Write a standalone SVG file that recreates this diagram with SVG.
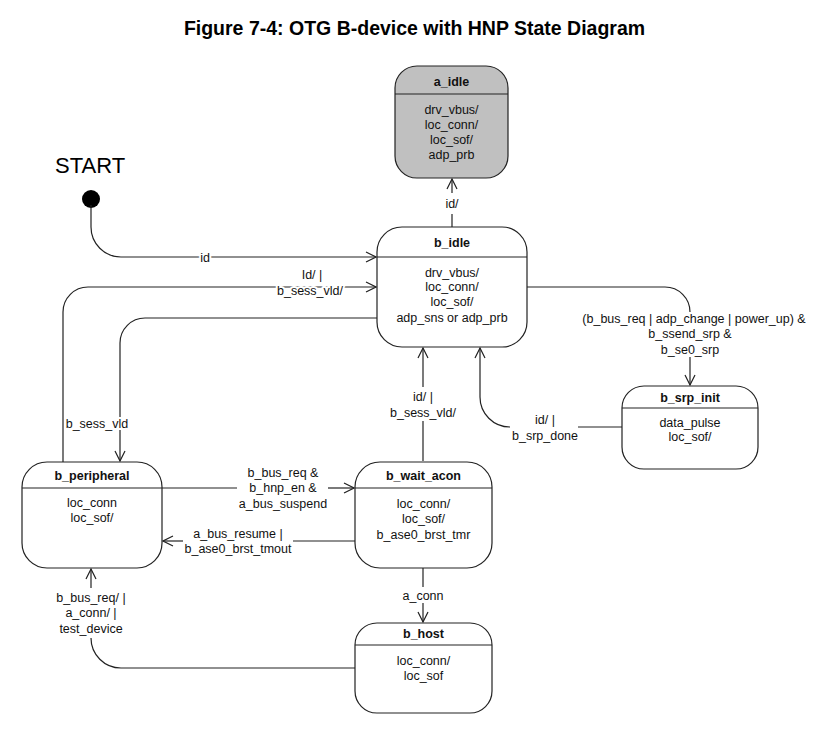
<svg xmlns="http://www.w3.org/2000/svg" width="837" height="732" viewBox="0 0 837 732">
<style>
.node{fill:#fff;stroke:#222;stroke-width:1.2}
.gray{fill:#c0c0c0}
.sep{stroke:#222;stroke-width:1.2}
.t{font-family:"Liberation Sans",Arial,sans-serif;font-size:12.5px;fill:#111;text-anchor:middle}
.b{font-weight:bold}
.c{fill:none;stroke:#222;stroke-width:1.2}
.halo{stroke:#fff;stroke-width:4;paint-order:stroke;stroke-linejoin:round}
</style>
<defs>
<marker id="ah" viewBox="0 0 12 12" refX="11" refY="6" markerWidth="12" markerHeight="12" markerUnits="userSpaceOnUse" orient="auto">
<path d="M1,1 L11,6 L1,11" fill="none" stroke="#222" stroke-width="1.2"/>
</marker>
</defs>
<rect width="837" height="732" fill="#fff"/>
<text x="414.5" y="35" style="font-family:'Liberation Sans',Arial,sans-serif;font-size:19.5px;font-weight:bold;fill:#000;text-anchor:middle">Figure 7-4: OTG B-device with HNP State Diagram</text>

<g id="start">
<text x="55" y="173" style="font-family:'Liberation Sans',Arial,sans-serif;font-size:22px;fill:#000">START</text>
<circle cx="91" cy="199" r="9" fill="#000"/>
</g>

<g id="connectors">
<path class="c" d="M91,205 V227 A30,30 0 0 0 121,257 H376" marker-end="url(#ah)"/>
<text class="t halo" x="205" y="261.5">id</text>

<path class="c" d="M63,462 V312 A25,25 0 0 1 88,287 H376" marker-end="url(#ah)"/>
<text class="t halo" x="312" y="279">Id/ |</text>
<text class="t halo" x="310" y="295">b_sess_vld/</text>

<path class="c" d="M377,318 H145 A25,25 0 0 0 120,343 V461" marker-end="url(#ah)"/>
<text class="t halo" x="97" y="428">b_sess_vld</text>

<path class="c" d="M452,227 V214"/>
<path class="c" d="M452,193 V179" marker-end="url(#ah)"/>
<text class="t" x="452" y="207.5">id/</text>

<path class="c" d="M527,287 H665 A25,25 0 0 1 690,312"/>
<path class="c" d="M690,357 V385" marker-end="url(#ah)"/>
<text class="t" x="694" y="322.5">(b_bus_req | adp_change | power_up) &amp;</text>
<text class="t" x="690" y="338">b_ssend_srp &amp;</text>
<text class="t" x="690" y="353.5">b_se0_srp</text>

<path class="c" d="M622,427 H578"/>
<path class="c" d="M510,427 A30,30 0 0 1 480,397 V348" marker-end="url(#ah)"/>
<text class="t" x="545" y="424">id/ |</text>
<text class="t" x="545" y="439.5">b_srp_done</text>

<path class="c" d="M423,461 V421"/>
<path class="c" d="M423,387 V348" marker-end="url(#ah)"/>
<text class="t" x="423" y="401">id/ |</text>
<text class="t" x="423" y="416.5">b_sess_vld/</text>

<path class="c" d="M162,488 H237"/>
<path class="c" d="M328,488 H354" marker-end="url(#ah)"/>
<text class="t" x="283" y="476.5">b_bus_req &amp;</text>
<text class="t" x="283" y="492">b_hnp_en &amp;</text>
<text class="t" x="283" y="507.5">a_bus_suspend</text>

<path class="c" d="M355,541 H293"/>
<path class="c" d="M183,541 H163" marker-end="url(#ah)"/>
<text class="t" x="238" y="537.5">a_bus_resume |</text>
<text class="t" x="238" y="553">b_ase0_brst_tmout</text>

<path class="c" d="M423,568 V587"/>
<path class="c" d="M423,603 V622" marker-end="url(#ah)"/>
<text class="t" x="423" y="599.5">a_conn</text>

<path class="c" d="M355,668 H121 A30,30 0 0 1 91,638"/>
<path class="c" d="M91,588 V569" marker-end="url(#ah)"/>
<text class="t" x="91" y="601.5">b_bus_req/ |</text>
<text class="t" x="91" y="617">a_conn/ |</text>
<text class="t" x="91" y="632.5">test_device</text>
</g>

<g id="a_idle">
<rect class="node gray" x="395" y="66" width="113" height="112" rx="22"/>
<line class="sep" x1="395" y1="94" x2="508" y2="94"/>
<text class="t b" x="451.5" y="85.5">a_idle</text>
<text class="t" x="451.5" y="113.5">drv_vbus/</text>
<text class="t" x="451.5" y="128.5">loc_conn/</text>
<text class="t" x="451.5" y="143.5">loc_sof/</text>
<text class="t" x="451.5" y="159">adp_prb</text>
</g>

<g id="b_idle">
<rect class="node" x="377" y="227" width="150" height="120" rx="25"/>
<line class="sep" x1="377" y1="257" x2="527" y2="257"/>
<text class="t b" x="452" y="246.5">b_idle</text>
<text class="t" x="452" y="276.5">drv_vbus/</text>
<text class="t" x="452" y="291">loc_conn/</text>
<text class="t" x="452" y="306">loc_sof/</text>
<text class="t" x="452" y="321.5">adp_sns or adp_prb</text>
</g>

<g id="b_srp_init">
<rect class="node" x="622" y="386" width="136" height="83" rx="22"/>
<line class="sep" x1="622" y1="408" x2="758" y2="408"/>
<text class="t b" x="690" y="401.5">b_srp_init</text>
<text class="t" x="690" y="426.5">data_pulse</text>
<text class="t" x="690" y="441">loc_sof/</text>
</g>

<g id="b_peripheral">
<rect class="node" x="22" y="462" width="140" height="106" rx="25"/>
<line class="sep" x1="22" y1="488" x2="162" y2="488"/>
<text class="t b" x="92" y="479.5">b_peripheral</text>
<text class="t" x="92" y="506.5">loc_conn</text>
<text class="t" x="92" y="522">loc_sof/</text>
</g>

<g id="b_wait_acon">
<rect class="node" x="355" y="462" width="137" height="106" rx="25"/>
<line class="sep" x1="355" y1="488" x2="492" y2="488"/>
<text class="t b" x="423.5" y="479.5">b_wait_acon</text>
<text class="t" x="423.5" y="507.5">loc_conn/</text>
<text class="t" x="423.5" y="523">loc_sof/</text>
<text class="t" x="423.5" y="538.5">b_ase0_brst_tmr</text>
</g>

<g id="b_host">
<rect class="node" x="355" y="623" width="137" height="90" rx="22"/>
<line class="sep" x1="355" y1="645" x2="492" y2="645"/>
<text class="t b" x="423.5" y="638">b_host</text>
<text class="t" x="423.5" y="664.5">loc_conn/</text>
<text class="t" x="423.5" y="679.5">loc_sof</text>
</g>
</svg>
